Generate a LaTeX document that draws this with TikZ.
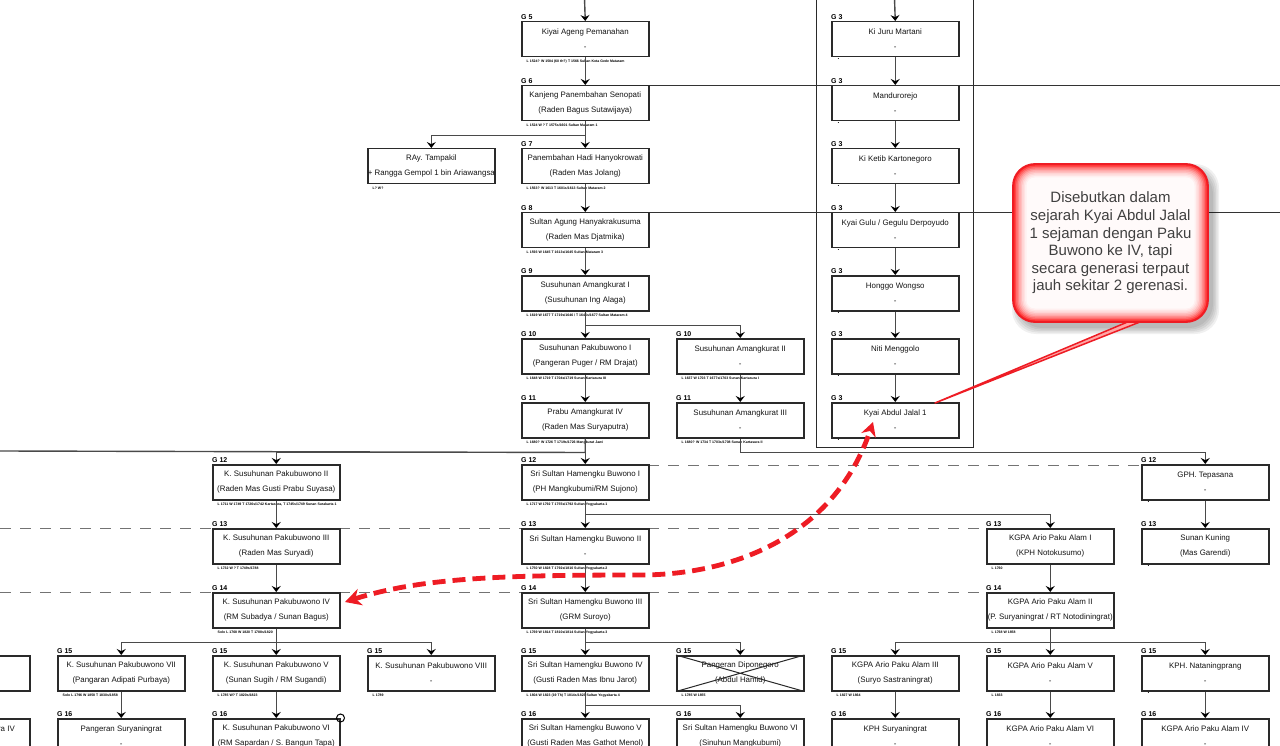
\documentclass[tikz,border=0pt]{standalone}
\usepackage{fontspec}
\setmainfont{Liberation Sans}
\usetikzlibrary{arrows.meta,calc}
\definecolor{boxc}{HTML}{2A2A2A}
\definecolor{linec}{HTML}{4A4A4A}
\definecolor{txt}{HTML}{151515}
\definecolor{calltxt}{HTML}{404040}
\definecolor{cred}{HTML}{EE1C24}
\newcommand\pbx[7]{%
  \node[pbox] (#1) at (#2,#3) {#5\\#6};
  \node[glab] at (#2,#3) {#4};
  \node[note] at ($(#1.south west)+(5.5,2.5)$) {#7};
}
\newcommand\pbd[6]{%
  \node[pbox] (#1) at (#2,#3) {#5\\#6};
  \node[glab] at (#2,#3) {#4};
  \node[dotn] at ($(#1.south west)+(6.5,1)$) {.};
}
\begin{document}
\begin{tikzpicture}[x=1pt,y=-1pt,
  pbox/.style={draw=boxc, line width=1.5pt, fill=white, minimum width=127pt,
    minimum height=35pt, inner sep=0pt, anchor=north west, align=center,
    text=txt, font=\fontsize{7.9}{15}\selectfont},
  glab/.style={anchor=south west, inner sep=0pt, yshift=1.4pt,
    font=\bfseries\fontsize{7}{7}\selectfont},
  note/.style={anchor=north west, inner sep=0pt,
    font=\bfseries\fontsize{3.5}{3.5}\selectfont},
  dotn/.style={anchor=north west, inner sep=0pt,
    font=\bfseries\fontsize{6.5}{6.5}\selectfont},
  conn/.style={draw=linec, line width=1.4pt,
    -{Stealth[length=6pt,width=9pt,inset=2.2pt,color=black]}},
  plain/.style={draw=linec, line width=1.4pt},
  gen/.style={draw=black!55, line width=0.8pt, dash pattern=on 11pt off 9pt},
  longl/.style={draw=black!80, line width=0.9pt},
  redarr/.style={draw=cred, line width=4.8pt, dash pattern=on 13pt off 7pt,
    {Stealth[length=16pt,width=17pt,color=cred]}-{Stealth[length=14pt,width=15pt,color=cred]}}
]
\clip (0,0) rectangle (1280,746);
\fill[white] (0,0) rectangle (1280,746);

% free ends
\coordinate (top1) at (584.5,-2);
\coordinate (top2) at (894.5,-2);
\coordinate (e85) at (1280,85);
\coordinate (e212) at (1280,212);
\coordinate (l451) at (0,451);
\coordinate (l528) at (0,528);
\coordinate (l592) at (0,592);

% frame around the G3 column
\draw[draw=boxc, line width=1pt] (816,-5) rectangle (973,447);

% ---------- boxes ----------
\pbx{kiy}{521}{21}{G 5}{Kiyai Ageng Pemanahan}{-}{L 1524? W 1584 (60 th?) T 1566 Sultan Kota Gede Mataram}
\pbx{kjs}{521}{85}{G 6}{Kanjeng Panembahan Senopati}{(Raden Bagus Sutawijaya)}{L 1524 W ? T 1575s/1601 Sultan Mataram 1}
\pbx{ray}{367}{148}{}{RAy. Tampakil}{+ Rangga Gempol 1 bin Ariawangsa}{L? W?}
\pbx{phh}{521}{148}{G 7}{Panembahan Hadi Hanyokrowati}{(Raden Mas Jolang)}{L 1563? W 1613 T 1601s/1613 Sultan Mataram 2}
\pbx{sag}{521}{212}{G 8}{Sultan Agung Hanyakrakusuma}{(Raden Mas Djatmika)}{L 1593 W 1645 T 1613s/1645 Sultan Mataram 3}
\pbx{ak1}{521}{275}{G 9}{Susuhunan Amangkurat I}{(Susuhunan Ing Alaga)}{L 1619 W 1677 T 1719s/1646 / T 1646s/1677 Sultan Mataram 4}
\pbx{pb1}{521}{338}{G 10}{Susuhunan Pakubuwono I}{(Pangeran Puger / RM Drajat)}{L 1648 W 1719 T 1704s/1719 Sunan Kartasura III}
\pbx{ak2}{676}{338}{G 10}{Susuhunan Amangkurat II}{-}{L 1637 W 1703 T 1677s/1703 Sunan Kartasura I}
\pbx{pak4}{521}{402}{G 11}{Prabu Amangkurat IV}{(Raden Mas Suryaputra)}{L 1680? W 1726 T 1719s/1726 Mangkurat Jawi}
\pbx{ak3}{676}{402}{G 11}{Susuhunan Amangkurat III}{-}{L 1680? W 1734 T 1703s/1708 Sunan Kartasura II}

% G3 column
\pbd{kjm}{831}{21}{G 3}{Ki Juru Martani}{-}
\pbd{man}{831}{85}{G 3}{Mandurorejo}{-}
\pbd{kkk}{831}{148}{G 3}{Ki Ketib Kartonegoro}{-}
\pbd{kgg}{831}{212}{G 3}{Kyai Gulu / Gegulu Derpoyudo}{-}
\pbd{hw}{831}{275}{G 3}{Honggo Wongso}{-}
\pbd{nm}{831}{338}{G 3}{Niti Menggolo}{-}
\pbd{kaj}{831}{402}{G 3}{Kyai Abdul Jalal 1}{-}

% generation guide lines (dashed)
\draw[gen] (648,465) -- (1141,465);
\draw[gen] (l528) -- (212,528);
\draw[gen] (339,528) -- (521,528);
\draw[gen] (648,528) -- (986,528);
\draw[gen] (l592) -- (212,592);
\draw[gen] (339,592) -- (521,592);
\draw[gen] (648,592) -- (986,592);

\pbx{pb2}{212}{464}{G 12}{K. Susuhunan Pakubuwono II}{(Raden Mas Gusti Prabu Suyasa)}{L 1711 W 1749 T 1726s/1742 Kartasura, T 1745s/1749 Sunan Surakarta 1}
\pbx{hb1}{521}{464}{G 12}{Sri Sultan Hamengku Buwono I}{(PH Mangkubumi/RM Sujono)}{L 1717 W 1792 T 1755s/1792 Sultan Yogyakarta 1}
\pbd{tep}{1141}{464}{G 12}{GPH. Tepasana}{-}
\pbx{pb3}{212}{528}{G 13}{K. Susuhunan Pakubuwono III}{(Raden Mas Suryadi)}{L 1732 W ? T 1749s/1788}
\pbx{hb2}{521}{528}{G 13}{Sri Sultan Hamengku Buwono II}{-}{L 1750 W 1828 T 1792s/1810 Sultan Yogyakarta 2}
\pbx{pa1}{986}{528}{G 13}{KGPA Ario Paku Alam I}{(KPH Notokusumo)}{L 1760}
\pbd{skn}{1141}{528}{G 13}{Sunan Kuning}{(Mas Garendi)}
\pbx{pb4}{212}{592}{G 14}{K. Susuhunan Pakubuwono IV}{(RM Subadya / Sunan Bagus)}{Solo L 1768 W 1820 T 1788s/1820}
\pbx{hb3}{521}{592}{G 14}{Sri Sultan Hamengku Buwono III}{(GRM Suroyo)}{L 1769 W 1814 T 1810s/1814 Sultan Yogyakarta 3}
\pbx{pa2}{986}{592}{G 14}{KGPA Ario Paku Alam II}{(P. Suryaningrat / RT Notodiningrat)}{L 1768 W 1858}

\node[pbox] (lb15) at (-98,655) {};
\pbx{pb7}{57}{655}{G 15}{K. Susuhunan Pakubuwono VII}{(Pangaran Adipati Purbaya)}{Solo L 1796 W 1858 T 1830s/1858}
\pbx{pb5}{212}{655}{G 15}{K. Susuhunan Pakubuwono V}{(Sunan Sugih / RM Sugandi)}{L 1785 W? T 1820s/1823}
\pbx{pb8}{367}{655}{G 15}{K. Susuhunan Pakubuwono VIII}{-}{L 1789}
\pbx{hb4}{521}{655}{G 15}{Sri Sultan Hamengku Buwono IV}{(Gusti Raden Mas Ibnu Jarot)}{L 1804 W 1823 (19 Th) T 1814s/1823 Sultan Yogyakarta 4}
\pbx{dip}{676}{655}{G 15}{Pangeran Diponegoro}{(Abdul Hamid)}{L 1785 W 1855}
\draw[draw=boxc, line width=1pt] (dip.north west) -- (dip.south east) (dip.south west) -- (dip.north east);
\pbx{pa3}{831}{655}{G 15}{KGPA Ario Paku Alam III}{(Suryo Sastraningrat)}{L 1827 W 1864}
\pbx{pa5}{986}{655}{G 15}{KGPA Ario Paku Alam V}{-}{L 1833}
\pbd{nat}{1141}{655}{G 15}{KPH. Nataningprang}{-}

\node[pbox] (lb16) at (-98,718) {};
\node[anchor=base east, inner sep=0pt, text=txt, font=\fontsize{7.9}{15}\selectfont] (lb16t) at (15,731) {ra IV};
\pbx{psy}{57}{718}{G 16}{Pangeran Suryaningrat}{-}{}
\pbx{pb6}{212}{718}{G 16}{K. Susuhunan Pakubuwono VI}{(RM Sapardan / S. Bangun Tapa)}{}
\draw[black, line width=1pt] (pb6.north east) circle (4);
\pbx{hb5}{521}{718}{G 16}{Sri Sultan Hamengku Buwono V}{(Gusti Raden Mas Gathot Menol)}{}
\pbx{hb6}{676}{718}{G 16}{Sri Sultan Hamengku Buwono VI}{(Sinuhun Mangkubumi)}{}
\pbx{kps}{831}{718}{G 16}{KPH Suryaningrat}{-}{}
\pbx{pa6}{986}{718}{G 16}{KGPA Ario Paku Alam VI}{-}{}
\pbx{pa4}{1141}{718}{G 16}{KGPA Ario Paku Alam IV}{-}{}

% long horizontal lines to the right edge
\draw[longl] (kjs.north east) -- (e85);
\draw[longl] (sag.north east) -- (e212);

% ---------- connectors ----------
\draw[conn] (top1) -- (kiy.north);
\draw[conn] (top2) -- (kjm.north);
\draw[conn] (kiy) -- (kjs);
\draw[conn] (kjs) -- (phh);
\draw[conn] (kjs.south) -- ++(0,14) -| (ray.north);
\draw[conn] (phh) -- (sag);
\draw[conn] (sag) -- (ak1);
\draw[conn] (ak1) -- (pb1);
\draw[conn] (ak1.south) -- ++(0,14) -| (ak2.north);
\draw[conn] (pb1) -- (pak4);
\draw[conn] (ak2) -- (ak3);
\draw[plain] (pak4.south) -- ++(0,14) -- (l451);
\draw[conn] (pak4) -- (hb1);
\draw[conn] (pak4.south) -- ++(0,14) -| (pb2.north);
\draw[conn] (ak3.south) -- ++(0,14) -| (tep.north);
\draw[conn] (kjm) -- (man);
\draw[conn] (man) -- (kkk);
\draw[conn] (kkk) -- (kgg);
\draw[conn] (kgg) -- (hw);
\draw[conn] (hw) -- (nm);
\draw[conn] (nm) -- (kaj);
\draw[conn] (pb2) -- (pb3);
\draw[conn] (pb3) -- (pb4);
\draw[conn] (pb4) -- (pb5);
\draw[conn] (pb4.south) -- ++(0,14) -| (pb7.north);
\draw[conn] (pb4.south) -- ++(0,14) -| (pb8.north);
\draw[conn] (pb7) -- (psy);
\draw[conn] (pb5) -- (pb6);
\draw[conn] (hb1) -- (hb2);
\draw[conn] (hb1.south) -- ++(0,14) -| (pa1.north);
\draw[conn] (hb2) -- (hb3);
\draw[conn] (hb3) -- (hb4);
\draw[conn] (hb3.south) -- ++(0,14) -| (dip.north);
\draw[conn] (hb4) -- (hb5);
\draw[conn] (hb4.south) -- ++(0,14) -| (hb6.north);
\draw[conn] (tep) -- (skn);
\draw[conn] (pa1) -- (pa2);
\draw[conn] (pa2) -- (pa5);
\draw[conn] (pa2.south) -- ++(0,14) -| (pa3.north);
\draw[conn] (pa2.south) -- ++(0,14) -| (nat.north);
\draw[conn] (pa3) -- (kps);
\draw[conn] (pa5) -- (pa6);
\draw[conn] (nat) -- (pa4);

% ---------- callout ----------
\coordinate (cA) at (1013,164);
\coordinate (cB) at (1208,322);
\coordinate (ctip) at (935,403);
\foreach \s in {0,1.5,3,4.5,6} {
  \fill[black, opacity=0.06, rounded corners=24pt] ($(cA)+(5-\s,6-\s)$) rectangle ($(cB)+(5+\s,6+\s)$);
}
\fill[red!35!white] (1137,318) -- (ctip) -- (1150,318) -- cycle;
\draw[cred, line width=1.5pt, line join=round] (1137,318) -- (ctip) -- (1150,318);
\foreach \k/\c in {0/88,1/72,2/58,3/45,4/34,5/25,6/17,7/11,8/6,9/2} {
  \pgfmathsetmacro\rr{22-\k*1.5}
  \fill[red!\c!white, rounded corners=\rr pt] ($(cA)+(\k*1.5,\k*1.5)$) rectangle ($(cB)-(\k*1.5,\k*1.5)$);
}
\draw[cred, line width=1.8pt, rounded corners=22pt] (cA) rectangle (cB);
\node[inner sep=0pt, align=center, text=calltxt, font=\fontsize{15}{17.6}\selectfont] (callt) at (1110.5,243)
  {Disebutkan dalam\\sejarah Kyai Abdul Jalal\\1 sejaman dengan Paku\\Buwono ke IV, tapi\\secara generasi terpaut\\jauh sekitar 2 gerenasi.};

% ---------- red dashed double arrow ----------
\coordinate (ra) at (345,602);
\coordinate (rb) at (873,422);
\draw[redarr] (ra) .. controls (420,578) and (500,575) .. (640,575) .. controls (735,575) and (835,535) .. (rb);
\end{tikzpicture}
\end{document}
